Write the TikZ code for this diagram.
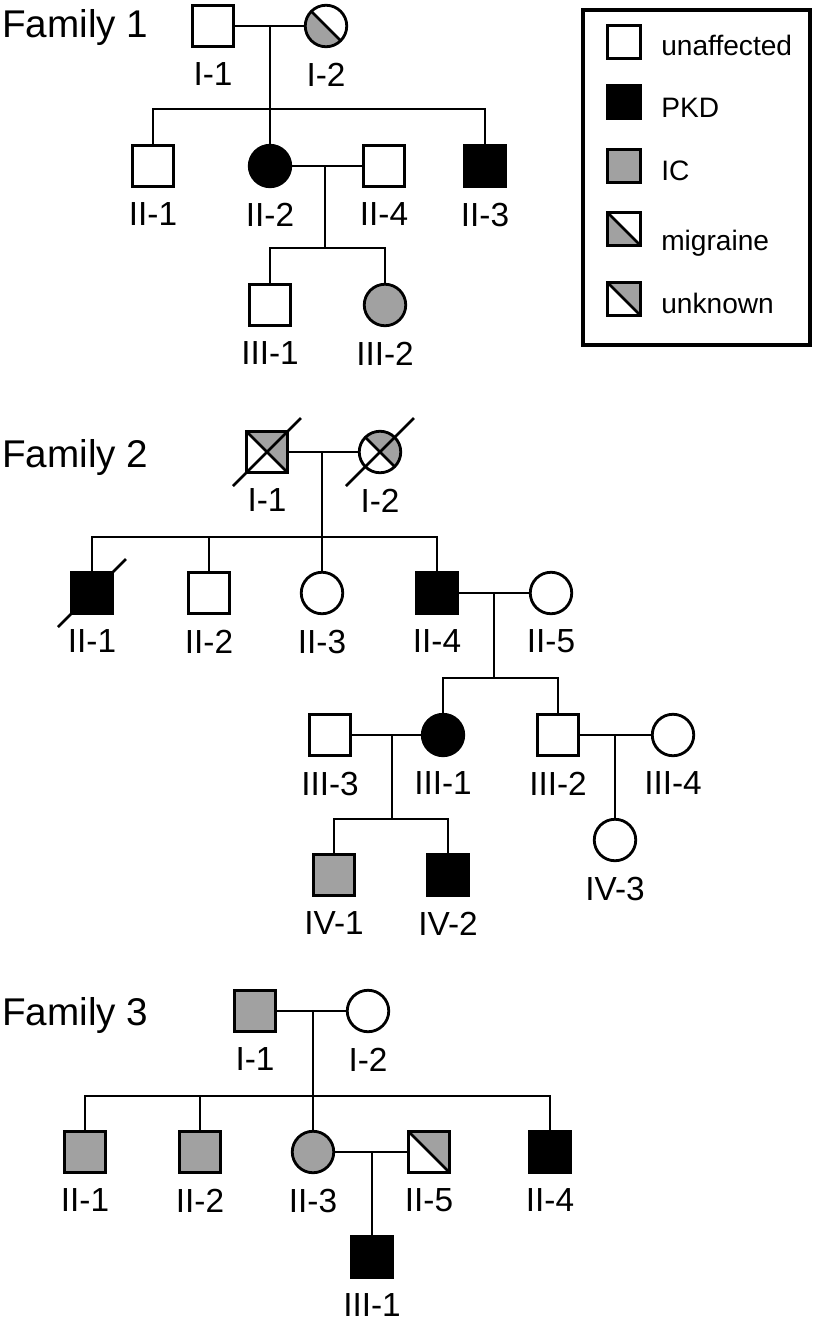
\documentclass[tikz,border=0pt]{standalone}
\usepackage{fontspec}
\setmainfont{Liberation Sans}
\definecolor{icgray}{gray}{0.63}
\begin{document}
\begin{tikzpicture}[x=0.02cm,y=-0.02cm,line width=1.5pt]
  \tikzset{ind/.style={draw,fill=white,line width=1.6pt,minimum size=0.83cm,inner sep=0pt},
    male/.style={ind,rectangle},female/.style={ind,circle},
    pkd/.style={fill=black},ic/.style={fill=icgray},
    migr/.style={path picture={\fill[icgray] (path picture bounding box.north west) --
        (path picture bounding box.south west) -- (path picture bounding box.south east) -- cycle;
        \draw[line width=1.6pt] (path picture bounding box.north west) -- (path picture bounding box.south east);}},
    unkn/.style={path picture={\fill[icgray] (path picture bounding box.north west) --
        (path picture bounding box.north east) -- (path picture bounding box.south east) -- cycle;
        \draw[line width=1.6pt] (path picture bounding box.north west) -- (path picture bounding box.south east);}},
    dead/.style={line width=1.5pt},
    lab/.style={font=\fontsize{19}{22}\selectfont,inner sep=0pt,yshift=-0.27cm},
    fam/.style={font=\fontsize{22}{26}\selectfont,inner sep=0pt,anchor=base west},
    legsym/.style={ind,rectangle,minimum size=0.65cm,line width=1.7pt},
    leg/.style={font=\fontsize{16}{19}\selectfont,inner sep=0pt,anchor=base west}}
  \useasboundingbox (0,0) rectangle (812,1325);

  \node[fam] (t1) at (1,37) {Family 1};
  \node[male,label={[lab]below:I-1}] (f1i1) at (213,26) {};
  \node[female,migr,label={[lab]below:I-2}] (f1i2) at (326,26) {};
  \coordinate (f1m) at (270,26); \coordinate (f1s) at (270,109);
  \node[male,label={[lab]below:II-1}] (f1ii1) at (153,166) {};
  \node[female,pkd,label={[lab]below:II-2}] (f1ii2) at (270,166) {};
  \node[male,label={[lab]below:II-4}] (f1ii4) at (384,166) {};
  \node[male,pkd,label={[lab]below:II-3}] (f1ii3) at (485,166) {};
  \coordinate (f1m2) at (325,166); \coordinate (f1s2) at (325,248);
  \node[male,label={[lab]below:III-1}] (f1iii1) at (270,305) {};
  \node[female,ic,label={[lab]below:III-2}] (f1iii2) at (385,305) {};

  \draw (f1i1) -- (f1i2) (f1m) -- (f1s) (f1ii1.north) |- (f1s) -| (f1ii3.north) (f1s) -- (f1ii2);
  \draw (f1ii2) -- (f1ii4) (f1m2) -- (f1s2) (f1iii1.north) |- (f1s2) -| (f1iii2.north);

  \node[fam] (t2) at (1,467) {Family 2};
  \node[male,unkn,label={[lab]below:I-1}] (f2i1) at (267,452) {};
  \node[female,unkn,label={[lab]below:I-2}] (f2i2) at (380,452) {};
  \coordinate (f2m) at (322,452); \coordinate (f2s) at (322,537);
  \node[male,pkd,label={[lab]below:II-1}] (f2ii1) at (92,593) {};
  \node[male,label={[lab]below:II-2}] (f2ii2) at (209,593) {};
  \node[female,label={[lab]below:II-3}] (f2ii3) at (322,593) {};
  \node[male,pkd,label={[lab]below:II-4}] (f2ii4) at (437,593) {};
  \node[female,label={[lab]below:II-5}] (f2ii5) at (551,593) {};
  \coordinate (f2m2) at (494,593); \coordinate (f2s2) at (494,678);
  \node[male,label={[lab]below:III-3}] (f2iii3) at (330,735) {};
  \node[female,pkd,label={[lab]below:III-1}] (f2iii1) at (443,735) {};
  \node[male,label={[lab]below:III-2}] (f2iii2) at (558,735) {};
  \node[female,label={[lab]below:III-4}] (f2iii4) at (673,735) {};
  \coordinate (f2m3) at (392,735); \coordinate (f2s3) at (392,819);
  \coordinate (f2m4) at (615,735);
  \node[male,ic,label={[lab]below:IV-1}] (f2iv1) at (334,875) {};
  \node[male,pkd,label={[lab]below:IV-2}] (f2iv2) at (448,875) {};
  \node[female,label={[lab]below:IV-3}] (f2iv3) at (615,840) {};

  \draw (f2i1) -- (f2i2) (f2m) -- (f2s) (f2ii1.north) |- (f2s) -| (f2ii4.north)
    (f2s) -- (f2ii3) (f2ii2.north) -- (f2ii2.north |- f2s);
  \draw (f2ii4) -- (f2ii5) (f2m2) -- (f2s2) (f2iii1.north) |- (f2s2) -| (f2iii2.north);
  \draw (f2iii3) -- (f2iii1) (f2m3) -- (f2s3) (f2iv1.north) |- (f2s3) -| (f2iv2.north);
  \draw (f2iii2) -- (f2iii4) (f2m4) -- (f2iv3);
  \draw[dead] (f2i1.center) ++(-34,34) -- ++(68,-68);
  \draw[dead] (f2i2.center) ++(-34,34) -- ++(68,-68);
  \draw[dead] (f2ii1.center) ++(-34,34) -- ++(68,-68);

  \node[fam] (t3) at (1,1025) {Family 3};
  \node[male,ic,label={[lab]below:I-1}] (f3i1) at (255,1011) {};
  \node[female,label={[lab]below:I-2}] (f3i2) at (368,1011) {};
  \coordinate (f3m) at (313,1011); \coordinate (f3s) at (313,1096);
  \node[male,ic,label={[lab]below:II-1}] (f3ii1) at (85,1152) {};
  \node[male,ic,label={[lab]below:II-2}] (f3ii2) at (200,1152) {};
  \node[female,ic,label={[lab]below:II-3}] (f3ii3) at (313,1152) {};
  \node[male,unkn,label={[lab]below:II-5}] (f3ii5) at (429,1152) {};
  \node[male,pkd,label={[lab]below:II-4}] (f3ii4) at (550,1152) {};
  \coordinate (f3m2) at (372,1152);
  \node[male,pkd,label={[lab]below:III-1}] (f3iii1) at (372,1257) {};

  \draw (f3i1) -- (f3i2) (f3m) -- (f3s) (f3ii1.north) |- (f3s) -| (f3ii4.north)
    (f3s) -- (f3ii3) (f3ii2.north) -- (f3ii2.north |- f3s);
  \draw (f3ii3) -- (f3ii5) (f3m2) -- (f3iii1);

  \draw[line width=1.8pt] (583,10) rectangle (810,345);
  \node[legsym] (l1) at (624,42) {}; \node[leg] (l1t) at (660,55) {unaffected};
  \node[legsym,pkd] (l2) at (624,102) {}; \node[leg] (l2t) at (660,117) {PKD};
  \node[legsym,ic] (l3) at (624,166) {}; \node[leg] (l3t) at (660,180) {IC};
  \node[legsym,migr] (l4) at (624,229) {}; \node[leg] (l4t) at (660,250) {migraine};
  \node[legsym,unkn] (l5) at (624,299) {}; \node[leg] (l5t) at (660,313) {unknown};
\end{tikzpicture}
\end{document}
